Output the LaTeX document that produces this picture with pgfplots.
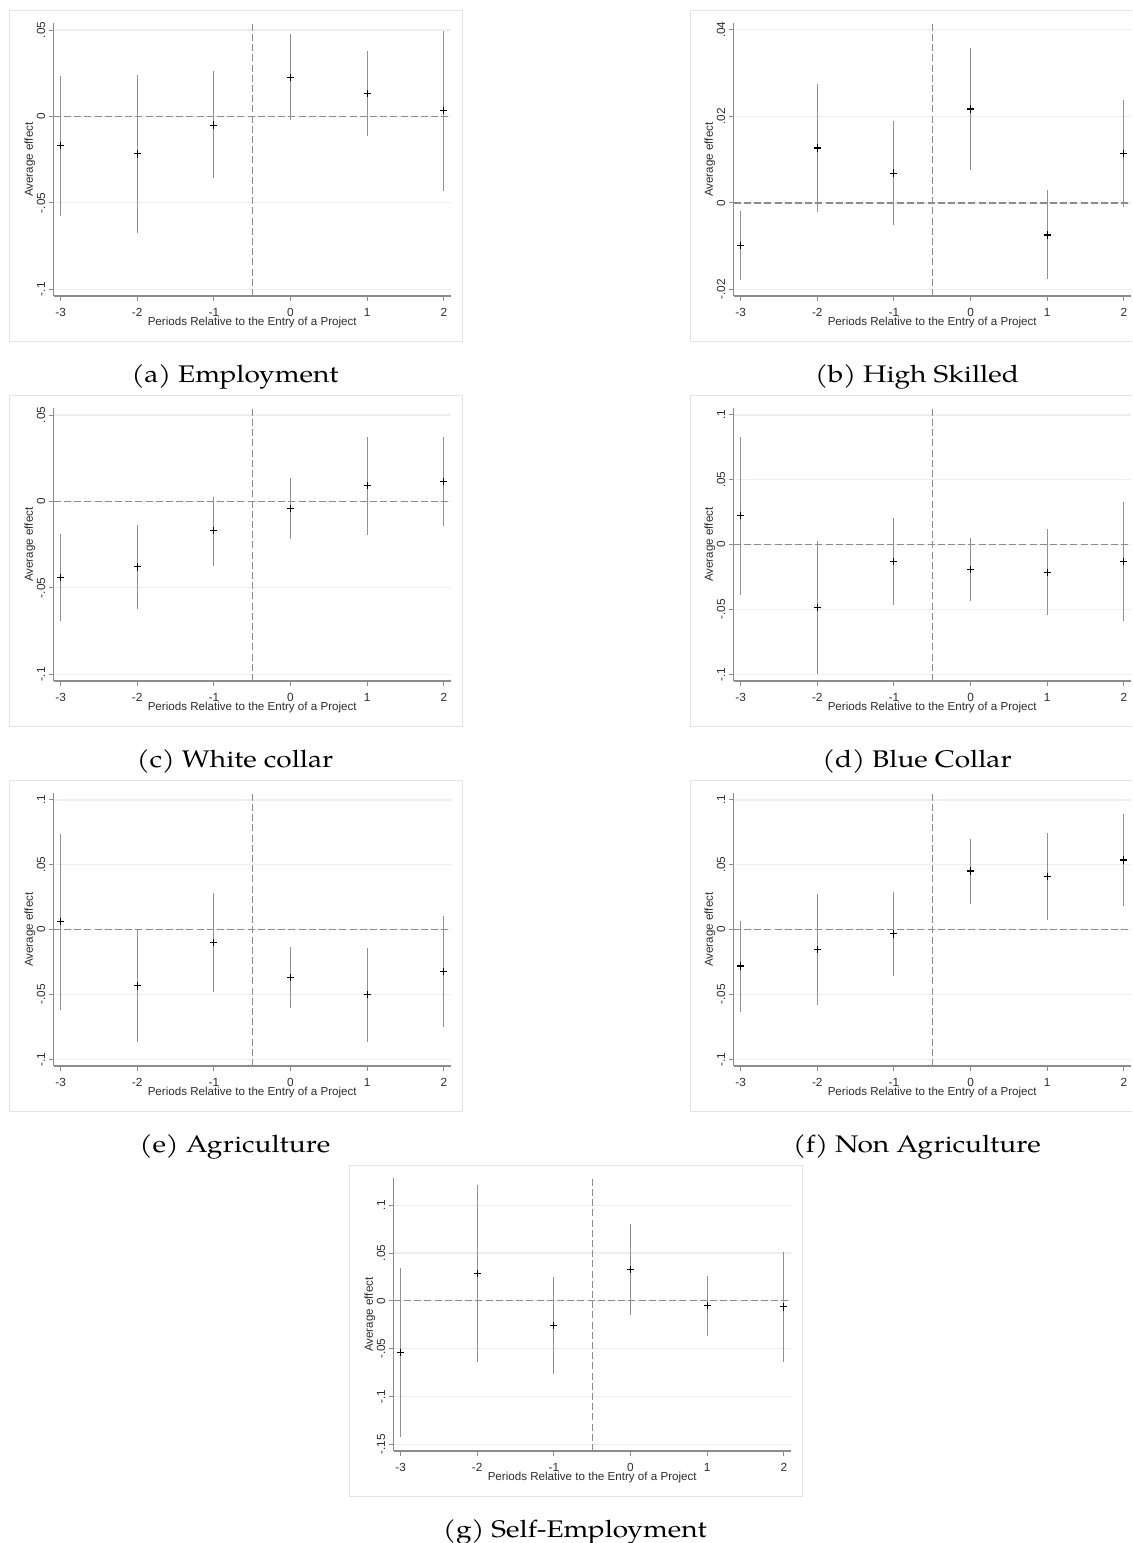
\documentclass[border=0pt]{standalone}
\usepackage{fontspec}
\setmainfont{Liberation Sans}
\newfontfamily\capfont{TeX Gyre Pagella}
\usepackage{pgfplots}
\usepackage{pgfplotstable}
\pgfplotsset{compat=1.18}

\definecolor{axisgray}{RGB}{140,140,140}
\definecolor{labgray}{RGB}{45,45,45}
\definecolor{cigray}{RGB}{145,145,145}
\definecolor{refgray}{RGB}{140,140,140}
\definecolor{gridc}{RGB}{232,240,241}
\definecolor{framec}{RGB}{228,228,228}

\pgfplotstableread{
x y lo hi
-3 -0.0169 -0.0577 0.0235
-2 -0.0217 -0.0673 0.0238
-1 -0.0050 -0.0358 0.0262
0 0.0227 -0.0019 0.0477
1 0.0133 -0.0113 0.0379
2 0.0033 -0.0433 0.0496
}\tabA
\pgfplotstableread{
x y lo hi
-3 -0.0098 -0.0177 -0.0019
-2 0.0127 -0.0022 0.0275
-1 0.0069 -0.0052 0.0189
0 0.0217 0.0075 0.0358
1 -0.0074 -0.0175 0.0029
2 0.0114 -0.0009 0.0237
}\tabB
\pgfplotstableread{
x y lo hi
-3 -0.0438 -0.0692 -0.0187
-2 -0.0379 -0.0623 -0.0137
-1 -0.0169 -0.0371 0.0027
0 -0.0040 -0.0217 0.0135
1 0.0090 -0.0196 0.0375
2 0.0117 -0.0142 0.0375
}\tabC
\pgfplotstableread{
x y lo hi
-3 0.0224 -0.0388 0.0833
-2 -0.0483 -0.1000 0.0031
-1 -0.0129 -0.0468 0.0203
0 -0.0190 -0.0434 0.0049
1 -0.0213 -0.0545 0.0118
2 -0.0129 -0.0586 0.0327
}\tabD
\pgfplotstableread{
x y lo hi
-3 0.0062 -0.0622 0.0740
-2 -0.0434 -0.0864 0.0000
-1 -0.0098 -0.0478 0.0280
0 -0.0368 -0.0602 -0.0134
1 -0.0501 -0.0866 -0.0144
2 -0.0324 -0.0753 0.0103
}\tabE
\pgfplotstableread{
x y lo hi
-3 -0.0280 -0.0632 0.0069
-2 -0.0154 -0.0581 0.0272
-1 -0.0033 -0.0357 0.0290
0 0.0452 0.0201 0.0699
1 0.0409 0.0072 0.0748
2 0.0537 0.0180 0.0892
}\tabF
\pgfplotstableread{
x y lo hi
-3 -0.0537 -0.1423 0.0342
-2 0.0289 -0.0635 0.1210
-1 -0.0255 -0.0764 0.0251
0 0.0331 -0.0146 0.0809
1 -0.0052 -0.0363 0.0262
2 -0.0063 -0.0642 0.0513
}\tabG

\pgfplotsset{
  stata/.style={
    scale only axis, width=198.5pt, height=136.35pt,
    anchor=south west,
    xmin=-3.09, xmax=2.09,
    axis x line*=bottom, axis y line*=left,
    axis line style={draw=axisgray, line width=0.65pt},
    xtick={-3,-2,-1,0,1,2}, xticklabels={-3,-2,-1,0,1,2},
    scaled y ticks=false, scaled x ticks=false,
    tick style={draw=axisgray, line width=0.5pt},
    tick align=outside, major tick length=2.3pt,
    ticklabel style={font=\fontsize{5.9}{6}\selectfont, text=labgray},
    yticklabel style={rotate=90, anchor=base, inner sep=0pt, yshift=2pt},
    xticklabel style={anchor=north, inner sep=0pt, yshift=-3.5pt},
    xlabel={Periods Relative to the Entry of a Project},
    ylabel={Average effect},
    label style={font=\fontsize{5.8}{6}\selectfont, text=labgray},
    xlabel style={at={(axis description cs:0.5,0)}, anchor=base, yshift=-15pt},
    ylabel style={at={(axis description cs:0,0.5)}, anchor=base, yshift=10.4pt},
    ymajorgrids, grid style={draw=gridc, line width=0.6pt},
  },
  refline/.style={draw=refgray, line width=0.6pt, dash pattern=on 3.5pt off 1.6pt, forget plot},
  cis/.style={draw=none, mark=none, forget plot,
    error bars/.cd, y dir=both, y explicit, error mark=none,
    error bar style={draw=cigray, line width=0.6pt, solid}},
  pts/.style={only marks, mark=+, mark size=1.8pt, mark options={draw=black, fill=none, line width=0.55pt}},
}

\newcommand{\panel}[1]{%
  \addplot[cis] table[x=x, y=y, y error plus expr=\thisrow{hi}-\thisrow{y}, y error minus expr=\thisrow{y}-\thisrow{lo}] {#1};
  \addplot[pts] table[x=x, y=y] {#1};
}

\begin{document}
\begin{tikzpicture}
\useasboundingbox (0pt,0pt) rectangle (566pt,771.5pt);
\clip (0pt,0pt) rectangle (566pt,771.5pt);

% frames
\draw[framec, line width=0.5pt] (4.5pt,600.5pt) rectangle (231pt,766pt);
\draw[framec, line width=0.5pt] (345pt,600.5pt) rectangle (572pt,766pt);
\draw[framec, line width=0.5pt] (4.5pt,408pt) rectangle (231pt,573.5pt);
\draw[framec, line width=0.5pt] (345pt,408pt) rectangle (572pt,573.5pt);
\draw[framec, line width=0.5pt] (4.5pt,215.5pt) rectangle (231pt,381pt);
\draw[framec, line width=0.5pt] (345pt,215.5pt) rectangle (572pt,381pt);
\draw[framec, line width=0.5pt] (174.5pt,23pt) rectangle (401pt,188.5pt);

% (a)
\begin{axis}[stata, at={(26.85pt,623.5pt)}, ymin=-0.1039, ymax=0.0539,
  ytick={-0.1,-0.05,0,0.05}, yticklabels={-.1,-.05,0,.05}]
  \addplot[refline] coordinates {(-3.09,0) (2.09,0)};
  \addplot[refline] coordinates {(-0.5,-0.1039) (-0.5,0.0539)};
  \panel{\tabA}
\end{axis}
% (b)
\begin{axis}[stata, at={(366.85pt,623.5pt)}, ymin=-0.0215, ymax=0.0415,
  ytick={-0.02,0,0.02,0.04}, yticklabels={-.02,0,.02,.04}]
  \addplot[refline] coordinates {(-3.09,0) (2.09,0)};
  \addplot[refline] coordinates {(-0.5,-0.0215) (-0.5,0.0415)};
  \panel{\tabB}
\end{axis}
% (c)
\begin{axis}[stata, at={(26.85pt,431pt)}, ymin=-0.1039, ymax=0.0539,
  ytick={-0.1,-0.05,0,0.05}, yticklabels={-.1,-.05,0,.05}]
  \addplot[refline] coordinates {(-3.09,0) (2.09,0)};
  \addplot[refline] coordinates {(-0.5,-0.1039) (-0.5,0.0539)};
  \panel{\tabC}
\end{axis}
% (d)
\begin{axis}[stata, at={(366.85pt,431pt)}, ymin=-0.1051, ymax=0.1051,
  ytick={-0.1,-0.05,0,0.05,0.1}, yticklabels={-.1,-.05,0,.05,.1}]
  \addplot[refline] coordinates {(-3.09,0) (2.09,0)};
  \addplot[refline] coordinates {(-0.5,-0.1051) (-0.5,0.1051)};
  \panel{\tabD}
\end{axis}
% (e)
\begin{axis}[stata, at={(26.85pt,238.5pt)}, ymin=-0.1051, ymax=0.1051,
  ytick={-0.1,-0.05,0,0.05,0.1}, yticklabels={-.1,-.05,0,.05,.1}]
  \addplot[refline] coordinates {(-3.09,0) (2.09,0)};
  \addplot[refline] coordinates {(-0.5,-0.1051) (-0.5,0.1051)};
  \panel{\tabE}
\end{axis}
% (f)
\begin{axis}[stata, at={(366.85pt,238.5pt)}, ymin=-0.1051, ymax=0.1051,
  ytick={-0.1,-0.05,0,0.05,0.1}, yticklabels={-.1,-.05,0,.05,.1}]
  \addplot[refline] coordinates {(-3.09,0) (2.09,0)};
  \addplot[refline] coordinates {(-0.5,-0.1051) (-0.5,0.1051)};
  \panel{\tabF}
\end{axis}
% (g)
\begin{axis}[stata, at={(196.85pt,46pt)}, ymin=-0.157, ymax=0.1282,
  ytick={-0.15,-0.1,-0.05,0,0.05,0.1}, yticklabels={-.15,-.1,-.05,0,.05,.1}]
  \addplot[refline] coordinates {(-3.09,0) (2.09,0)};
  \addplot[refline] coordinates {(-0.5,-0.157) (-0.5,0.1282)};
  \panel{\tabG}
\end{axis}

% captions
\begin{scope}[every node/.style={anchor=base, font=\capfont\fontsize{12}{13}\selectfont, inner sep=0pt, xscale=1.17}]
\node at (117.5pt,580pt) {(a) Employment};
\node at (458.5pt,580pt) {(b) High Skilled};
\node at (117.5pt,387.5pt) {(c) White collar};
\node at (458.5pt,387.5pt) {(d) Blue Collar};
\node at (117.5pt,195pt) {(e) Agriculture};
\node at (458.5pt,195pt) {(f) Non Agriculture};
\node at (287.5pt,2.5pt) {(g) Self-Employment};
\end{scope}
\end{tikzpicture}
\end{document}
